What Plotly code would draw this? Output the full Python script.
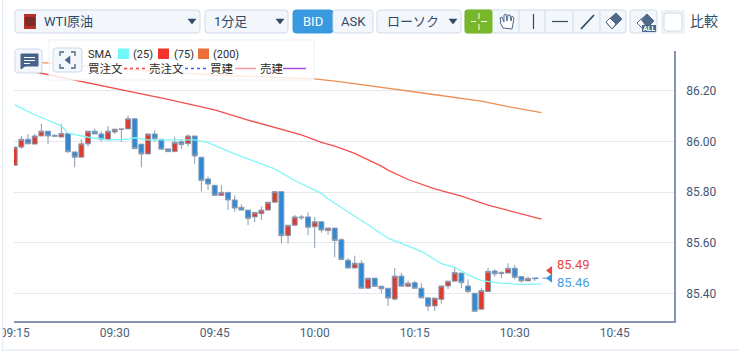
import plotly.graph_objects as go
from datetime import datetime, timedelta

W, H = 739, 351
START = datetime(2024, 1, 9, 9, 15)

def t(i):
    return (START + timedelta(minutes=i)).strftime("%Y-%m-%d %H:%M:%S")

opens = [85.906,85.978,86.009,85.990,86.022,86.041,86.025,86.018,86.032,85.959,85.938,85.991,86.041,86.030,86.007,86.038,86.050,86.050,86.090,85.990,85.951,
         86.030,86.009,85.971,85.960,85.999,85.992,86.022,85.938,85.852,85.827,85.787,85.799,85.769,85.740,85.729,85.702,85.715,85.729,85.760,85.802,85.628,85.669,85.702,85.702,
         85.663,85.683,85.648,85.658,85.612,85.531,85.500,85.519,85.420,85.460,85.428,85.420,85.377,85.468,85.428,85.442,85.420,85.382,85.350,
         85.376,85.429,85.448,85.480,85.429,85.400,85.337,85.407,85.488,85.482,85.480,85.499,85.466,85.449,85.460]
closes = [85.978,86.009,85.991,86.022,86.041,86.022,86.021,86.032,85.960,85.938,85.991,86.041,86.030,86.009,86.041,86.049,86.048,86.090,85.972,85.951,86.030,
          86.011,85.970,85.960,85.997,85.988,86.022,85.943,85.846,85.832,85.787,85.799,85.769,85.737,85.729,85.696,85.720,85.729,85.760,85.802,85.628,85.669,85.702,85.699,85.661,
          85.683,85.650,85.658,85.609,85.533,85.500,85.519,85.420,85.460,85.427,85.418,85.381,85.468,85.428,85.440,85.420,85.382,85.349,85.381,
          85.429,85.448,85.482,85.442,85.407,85.329,85.411,85.487,85.477,85.478,85.499,85.463,85.449,85.459,85.458]
highs = [85.978,86.022,86.030,86.030,86.070,86.041,86.028,86.070,86.032,85.959,86.009,86.041,86.050,86.040,86.062,86.049,86.050,86.103,86.090,85.990,86.030,
         86.044,86.009,85.971,86.020,86.009,86.029,86.022,85.938,85.861,85.827,85.827,85.799,85.787,85.752,85.729,85.720,85.743,85.760,85.802,85.802,85.669,85.710,85.710,85.720,
         85.702,85.683,85.658,85.658,85.618,85.539,85.549,85.530,85.460,85.460,85.428,85.420,85.500,85.480,85.450,85.450,85.440,85.382,85.381,
         85.429,85.448,85.500,85.480,85.455,85.400,85.421,85.500,85.495,85.488,85.519,85.512,85.466,85.466,85.460]
lows = [85.906,85.971,85.990,85.990,86.022,85.990,86.021,86.018,85.954,85.898,85.938,85.980,86.030,86.000,86.007,86.030,85.999,86.050,85.972,85.898,85.951,
        86.000,85.970,85.960,85.960,85.971,85.980,85.912,85.802,85.809,85.787,85.787,85.729,85.723,85.729,85.670,85.681,85.690,85.729,85.760,85.597,85.597,85.669,85.690,85.630,
        85.579,85.640,85.632,85.542,85.533,85.500,85.500,85.420,85.420,85.427,85.400,85.350,85.372,85.428,85.424,85.420,85.382,85.330,85.330,
        85.360,85.416,85.448,85.420,85.400,85.329,85.337,85.407,85.466,85.460,85.480,85.455,85.442,85.449,85.449]

sma25_min = [0,3,7,8,11,14,17,18,20,21,24,27,29,33,39,42,46,47,53,56,61,64,66,68,70,73,76,79]
sma25 = [86.145,86.106,86.062,86.033,86.017,86.007,86.009,86.015,86.007,86.007,86.007,86.007,85.996,85.951,85.892,85.846,85.795,85.773,85.671,85.618,85.566,85.517,85.503,85.473,85.450,85.440,85.434,85.437]
sma75_min = [0,4,23,30,35,43,46,48,51,55,56,59,63,67,71,74,79]
sma75 = [86.290,86.270,86.167,86.125,86.085,86.026,85.997,85.982,85.953,85.903,85.887,85.850,85.813,85.784,85.749,85.729,85.693]
sma200_min = [0,4,10,20,30,40,45,49,56,62,70,74,79]
sma200 = [86.318,86.312,86.300,86.279,86.263,86.253,86.248,86.236,86.212,86.189,86.160,86.138,86.114]

y_ticks = [85.4, 85.6, 85.8, 86.0, 86.2]
y_tick_labels = ["85.40", "85.60", "85.80", "86.00", "86.20"]
x_tick_minutes = [0, 15, 30, 45, 60, 75, 90]
x_tick_labels = ["09:15", "09:30", "09:45", "10:00", "10:15", "10:30", "10:45"]
ask_price, bid_price = 85.49, 85.46
marker_minute, dash_from, dash_to = 80.3, 78, 79.8

JP = "Noto Sans CJK JP"
RB = "Roboto, 'Noto Sans CJK JP'"
INK = "#2f4a68"
BORDER = "#cfdbe8"
BTN = "#f3f6fa"

fig = go.Figure()
fig.add_trace(go.Candlestick(
    x=[t(i) for i in range(len(opens))], open=opens, high=highs, low=lows, close=closes,
    whiskerwidth=0,
    increasing=dict(fillcolor="#de3b2e", line=dict(color="#8a9bb1", width=1)),
    decreasing=dict(fillcolor="#2f8ad6", line=dict(color="#8a9bb1", width=1)),
    showlegend=False))
for mins, vals, col in [(sma25_min, sma25, "#80f6f6"), (sma75_min, sma75, "#f0514b"), (sma200_min, sma200, "#ee8f52")]:
    fig.add_trace(go.Scatter(x=[t(i) for i in mins], y=vals, mode="lines", line=dict(color=col, width=1.3), showlegend=False))
fig.add_trace(go.Scatter(x=[t(dash_from), t(dash_to)], y=[bid_price, bid_price], mode="lines",
                         line=dict(color="#3a93dc", width=1, dash="4px,4px"), showlegend=False))
fig.add_trace(go.Scatter(x=[t(marker_minute)], y=[ask_price], mode="markers",
                         marker=dict(symbol="triangle-left", size=8, color="#e8473b"), showlegend=False))
fig.add_trace(go.Scatter(x=[t(marker_minute)], y=[bid_price], mode="markers",
                         marker=dict(symbol="triangle-left", size=8, color="#3a93dc"), showlegend=False))

shapes, annos = [], []
def X(x): return x / W
def Y(y): return 1 - y / H
def rect(x0, y0, x1, y1, fill=BTN, line=BORDER, lw=1, r=0, op=1):
    if r == 0:
        shapes.append(dict(type="rect", xref="paper", yref="paper", x0=X(x0), x1=X(x1), y0=Y(y0), y1=Y(y1),
                           fillcolor=fill, line=dict(color=line, width=lw), opacity=op, layer="above"))
    else:
        p = f"M{X(x0+r)},{Y(y0)} L{X(x1-r)},{Y(y0)} Q{X(x1)},{Y(y0)} {X(x1)},{Y(y0+r)} L{X(x1)},{Y(y1-r)} Q{X(x1)},{Y(y1)} {X(x1-r)},{Y(y1)} L{X(x0+r)},{Y(y1)} Q{X(x0)},{Y(y1)} {X(x0)},{Y(y1-r)} L{X(x0)},{Y(y0+r)} Q{X(x0)},{Y(y0)} {X(x0+r)},{Y(y0)} Z"
        shapes.append(dict(type="path", xref="paper", yref="paper", path=p, fillcolor=fill,
                           line=dict(color=line, width=lw), opacity=op, layer="above"))
def poly(pts, fill=None, line=INK, lw=1.2, close=False, dash=None):
    p = "M" + " L".join(f"{X(a)},{Y(b)}" for a, b in pts) + (" Z" if close else "")
    ln = dict(color=line, width=lw)
    if dash: ln["dash"] = dash
    d = dict(type="path", xref="paper", yref="paper", path=p, line=ln, layer="above")
    if fill: d["fillcolor"] = fill
    shapes.append(d)
def txt(x, y, s, size=12, color=INK, anchor="left", font=RB):
    annos.append(dict(xref="paper", yref="paper", x=X(x), y=Y(y), text=s, showarrow=False, xanchor=anchor,
                      yanchor="middle", font=dict(size=size, color=color, family=font), borderpad=0, borderwidth=0))

# page frame
rect(0, 0, 3, H, fill="#ffffff", line="#ffffff", lw=0)
rect(2.2, 0, 3.2, H, fill="#dce6f2", line="#dce6f2", lw=0)
rect(3, 349.5, W, 350.5, fill="#dce6f2", line="#dce6f2", lw=0)

# top bar dropdowns
rect(15, 10, 200, 33, r=3)
rect(24, 14, 36, 29, fill="#b8312a", line="#b8312a", lw=0)
rect(25, 17, 35, 26, fill="#7c2b28", line="#7c2b28", lw=0)
txt(44, 21, "WTI原油", 13)
poly([(188, 19), (196, 19), (192, 24)], fill=INK, line=INK, lw=0.5, close=True)
rect(205, 10, 288, 33, r=3)
txt(214, 22, "1分足", 13)
poly([(276, 19), (284, 19), (280, 24)], fill=INK, line=INK, lw=0.5, close=True)
rect(293, 10, 333, 33, fill="#3a9ae0", line="#3a9ae0", r=3)
txt(313, 22, "BID", 13, "#ffffff", "center")
rect(333, 10, 373, 33, r=3)
txt(353, 22, "ASK", 13, INK, "center")
rect(377, 10, 461, 33, r=3)
txt(387, 22, "ローソク", 13)
poly([(449, 19), (457, 19), (453, 24)], fill=INK, line=INK, lw=0.5, close=True)

# tool group
rect(465, 10, 626, 33, r=3)
rect(465, 10, 492, 33, fill="#76b82a", line="#76b82a", r=2)
poly([(471, 21.5), (476, 21.5)], line="#ffffff", lw=1)
poly([(481, 21.5), (487, 21.5)], line="#ffffff", lw=1)
poly([(479, 13), (479, 19)], line="#ffffff", lw=1)
poly([(479, 24), (479, 30)], line="#ffffff", lw=1)
for xs in (519, 545, 573, 600):
    poly([(xs, 10), (xs, 33)], line=BORDER, lw=1)
poly([(500, 22), (503, 28), (512, 29), (514, 18), (512, 16), (511, 21), (510, 15), (508, 15), (507, 21), (506, 14), (504, 15), (504, 22), (502, 17), (500, 18), (501, 22)],
     fill="#ffffff", line="#4f6a88", lw=1, close=True)
poly([(533.5, 14), (533.5, 29)], line=INK, lw=1.2)
poly([(552, 21.5), (568, 21.5)], line=INK, lw=1.2)
poly([(581, 29), (594, 15)], line=INK, lw=1.8)
poly([(606, 22), (616, 13), (622, 19), (612, 29)], fill="#4f6a88", line="#4f6a88", lw=1, close=True)
poly([(606, 22), (610, 18), (616, 24), (612, 29)], fill="#ffffff", line="#4f6a88", lw=1, close=True)

rect(630, 10, 657, 33, r=3)
poly([(637, 23), (647, 14), (654, 21), (645, 30)], fill="#4f6a88", line="#4f6a88", lw=1, close=True)
poly([(637, 23), (641, 19), (646, 26), (643, 29)], fill="#ffffff", line="#4f6a88", lw=1, close=True)
rect(642, 25, 656, 32, fill="#4f6a88", line="#4f6a88", lw=0)
txt(649, 28.5, "<b>ALL</b>", 7, "#ffffff", "center")

rect(661, 10, 685, 34, fill="#edf2f7", line="#edf2f7", lw=0)
rect(664, 13, 682, 31, fill="#ffffff", line=BORDER, r=3)
txt(690, 21, "比較", 14, INK)

# chat + legend panel
rect(15, 49, 42, 73, r=3)
poly([(21, 54), (38, 54), (38, 66), (25, 66), (21, 69)], fill="#47658a", line="#47658a", lw=1, close=True)
for yy, xe in ((57.5, 35), (60.5, 35), (63.5, 30)):
    poly([(24, yy), (xe, yy)], line="#ffffff", lw=1)

rect(49, 40, 314, 80, fill="rgba(255,255,255,0.82)", line="#eef1f5", lw=1)
rect(53, 48, 82, 72, r=3)
for pts in ([(60, 56), (60, 52), (64, 52)], [(71, 52), (75, 52), (75, 56)], [(60, 64), (60, 68), (64, 68)], [(71, 68), (75, 68), (75, 64)]):
    poly(pts, line="#47658a", lw=1.3)
poly([(70, 56), (70, 64), (65, 60)], fill="#47658a", line="#47658a", lw=0.5, close=True)

txt(88, 54, "SMA", 11, "#2b2b2b")
rect(118, 48.5, 129, 59, fill="#72f7f9", line="#72f7f9", lw=0)
txt(133, 54, "(25)", 11, "#2b2b2b")
rect(158, 48.5, 169, 59, fill="#f1352e", line="#f1352e", lw=0)
txt(174, 54, "(75)", 11, "#2b2b2b")
rect(198, 48.5, 209, 59, fill="#e96f35", line="#e96f35", lw=0)
txt(213, 54, "(200)", 11, "#2b2b2b")
txt(88, 68, "買注文", 11.5, "#2b2b2b", font=JP)
poly([(124, 68.5), (147, 68.5)], line="#f0484a", lw=1.5, dash="dot")
txt(149, 68, "売注文", 11.5, "#2b2b2b", font=JP)
poly([(185, 68.5), (208, 68.5)], line="#4060f0", lw=1.5, dash="dot")
txt(210, 68, "買建", 11.5, "#2b2b2b", font=JP)
poly([(235, 68.5), (256, 68.5)], line="#f59a9a", lw=1.5)
txt(260, 68, "売建", 11.5, "#2b2b2b", font=JP)
poly([(283, 68.5), (306, 68.5)], line="#a64fe0", lw=1.5)

txt(557, 264, str(ask_price), 13, "#e8473b")
txt(557, 282, str(bid_price), 13, "#4aa0e0")

# axis range chosen so 09:15 sits at x=14.7 and one minute spans 6.667 px
xr0 = START - timedelta(minutes=0.7 / 6.667)
xr1 = START + timedelta(minutes=(674 - 14.7) / 6.667)

fig.update_layout(
    width=W, height=H, margin=dict(l=0, r=0, t=0, b=0, autoexpand=False), autosize=False,
    boxgap=0.14, boxgroupgap=0.14,
    paper_bgcolor="#ffffff", plot_bgcolor="#ffffff", shapes=shapes, annotations=annos, showlegend=False,
    xaxis=dict(domain=[14 / W, 674 / W], type="date", range=[xr0, xr1], rangeslider=dict(visible=False),
               tickmode="array", tickvals=[t(i) for i in x_tick_minutes], ticktext=x_tick_labels,
               showgrid=False, showline=True, linecolor="#8496ad", linewidth=1.5, ticks="", zeroline=False,
               ticklabeloverflow="allow",
               tickfont=dict(family="Roboto", size=12, color="#4a5f7a"), ticklabelstandoff=0),
    yaxis=dict(domain=[1 - 321 / H, 1 - 51 / H], side="right", range=[85.2905, 86.358],
               tickmode="array", tickvals=y_ticks, ticktext=y_tick_labels,
               showgrid=True, gridcolor="#e6e8ed", gridwidth=1.2, showline=True, linecolor="#8496ad", linewidth=1.5,
               ticks="", zeroline=False, tickfont=dict(family="Roboto", size=12, color="#3f5775"), ticklabelstandoff=8),
)
fig.write_html("out.html", config=dict(displayModeBar=False),
               post_script="document.body.style.margin='0';document.body.style.overflow='hidden';")
